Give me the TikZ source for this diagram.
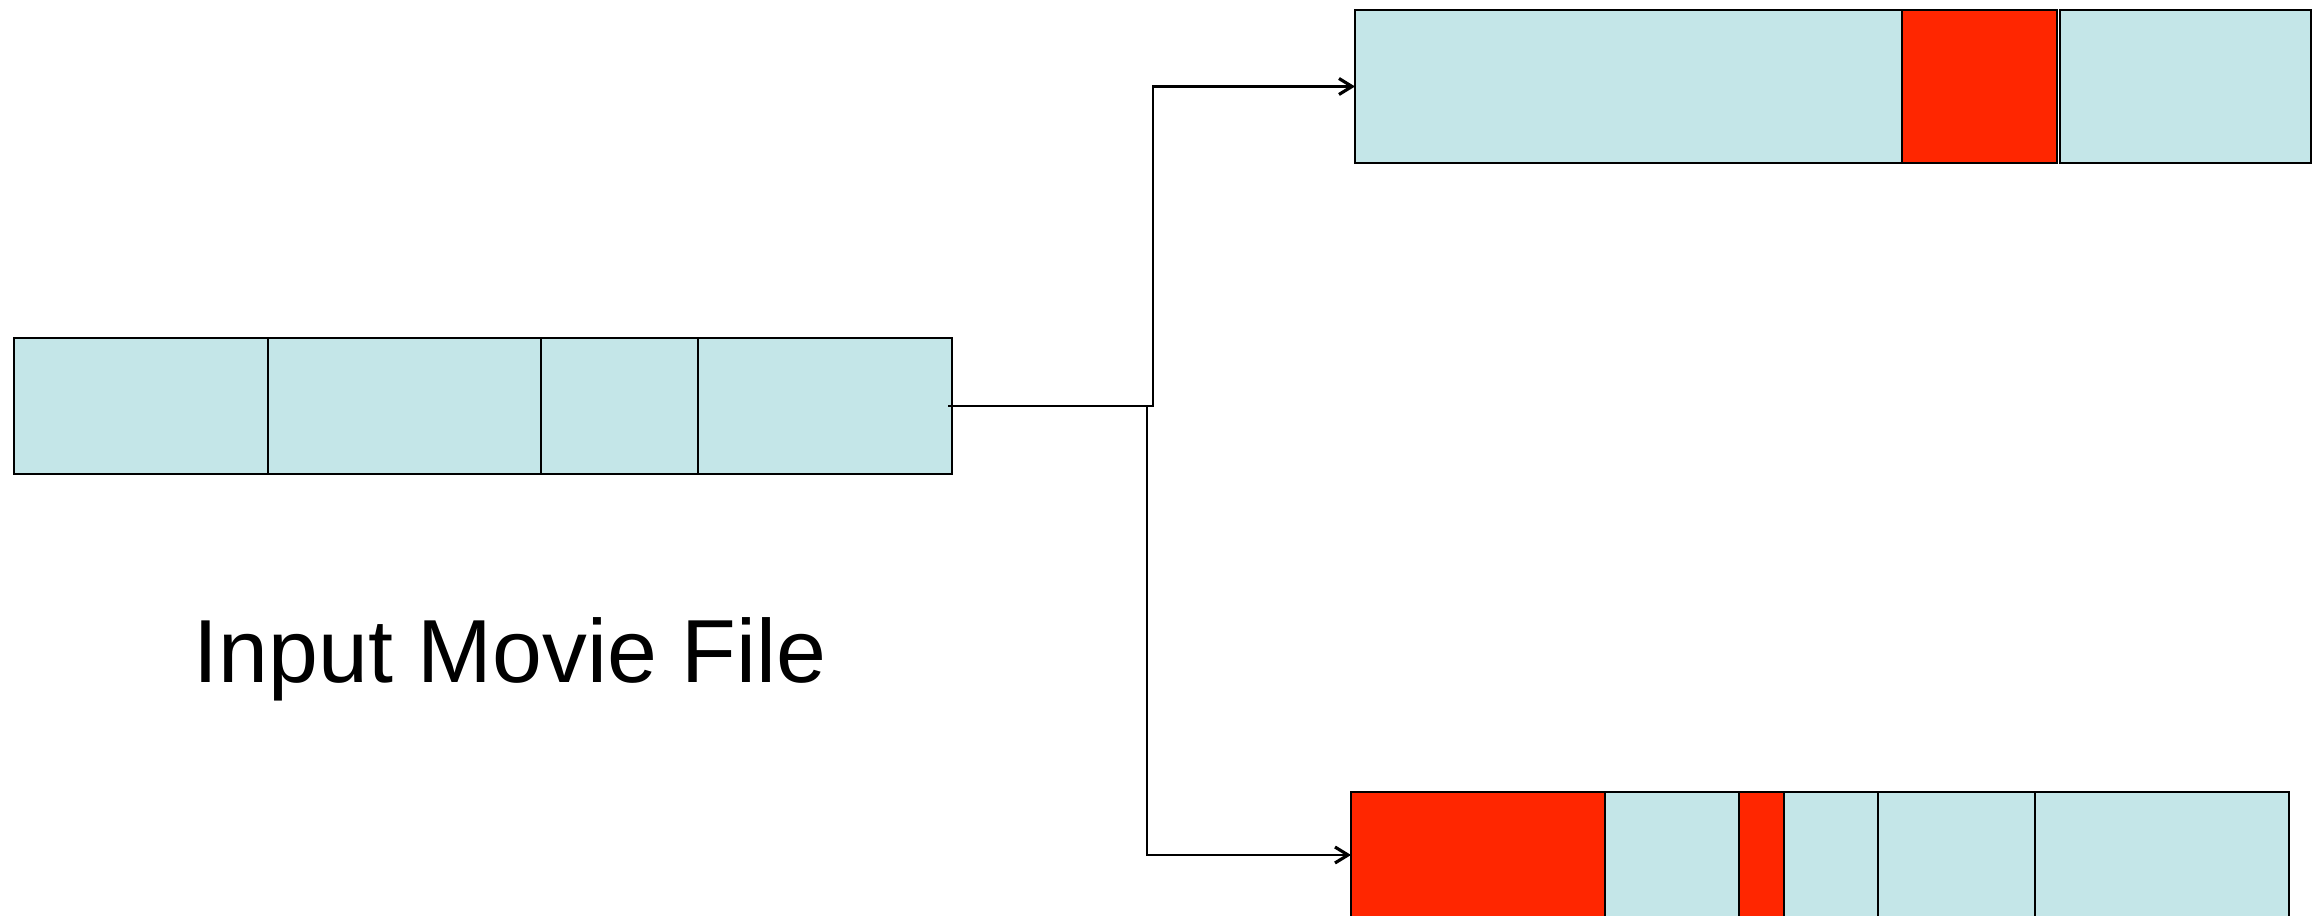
\documentclass[tikz,border=0pt]{standalone}
\usepackage{fontspec}
\setmainfont{Liberation Sans}
\usetikzlibrary{arrows.meta}

\definecolor{segblue}{RGB}{196,230,232}
\definecolor{segred}{RGB}{255,38,0}

\tikzset{
  seg/.style={draw=black, line width=0.6pt, inner sep=0pt, outer sep=0pt, anchor=north west},
  bluebox/.style={seg, fill=segblue},
  redbox/.style={seg, fill=segred},
  link/.style={black, line width=0.6pt, -{Straight Barb[length=1.3mm,width=1.6mm,line width=0.9pt]}}
}

\begin{document}
\begin{tikzpicture}

  \useasboundingbox (0,0) rectangle (23.21,-9.16);
  \clip (0,0) rectangle (23.21,-9.16);

  % input file
  \begin{scope}[every node/.append style={minimum height=1.36cm}]
    \node[bluebox, minimum width=2.54cm] (in1) at (0.14,-3.38) {};
    \node[bluebox, minimum width=2.73cm] (in2) at (2.68,-3.38) {};
    \node[bluebox, minimum width=1.57cm] (in3) at (5.41,-3.38) {};
    \node[bluebox, minimum width=2.54cm] (in4) at (6.98,-3.38) {};
  \end{scope}

  \node[font=\fontsize{25.5}{30}\selectfont, anchor=base, inner sep=0pt] (label) at (5.10,-6.83) {Input Movie File};

  % upper output: one red block
  \begin{scope}[every node/.append style={minimum height=1.53cm}]
    \node[bluebox, minimum width=5.47cm] (top1) at (13.55,-0.10) {};
    \node[redbox,  minimum width=1.55cm] (top2) at (19.02,-0.10) {};
    \node[bluebox, minimum width=2.51cm] (top3) at (20.60,-0.10) {};
  \end{scope}

  % lower output: two red blocks
  \begin{scope}[every node/.append style={minimum height=1.26cm}]
    \node[redbox,  minimum width=2.54cm] (bot1) at (13.51,-7.92) {};
    \node[bluebox, minimum width=1.34cm] (bot2) at (16.05,-7.92) {};
    \node[redbox,  minimum width=0.45cm] (bot3) at (17.39,-7.92) {};
    \node[bluebox, minimum width=0.94cm] (bot4) at (17.84,-7.92) {};
    \node[bluebox, minimum width=1.57cm] (bot5) at (18.78,-7.92) {};
    \node[bluebox, minimum width=2.54cm] (bot6) at (20.35,-7.92) {};
  \end{scope}

  % split into the two outputs
  \coordinate (fork) at (11.53,0);
  \coordinate (forkb) at (11.47,0);
  \draw[link] ([xshift=-0.4mm]in4.east) -- (in4.east -| fork) |- (top1.west);
  \draw[link] (in4.east -| forkb) |- (bot1.west);

\end{tikzpicture}
\end{document}
